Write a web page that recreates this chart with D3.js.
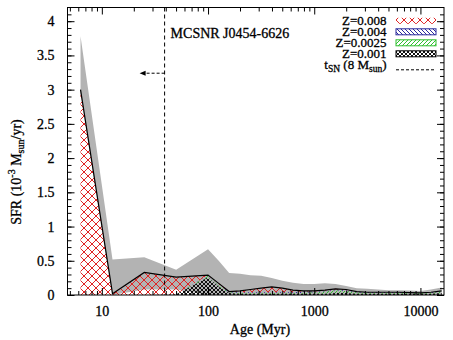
<!DOCTYPE html>
<html>
<head>
<meta charset="utf-8">
<script src="https://cdn.jsdelivr.net/npm/d3@7"></script>
<style>
  body { margin: 0; background: #fff; }
  svg { display: block; }
  svg text { font-family: "Liberation Serif", "Times New Roman", Times, "DejaVu Serif", serif; stroke: #000; stroke-width: 0.3px; }
</style>
</head>
<body>
<svg id="chart" width="453" height="340"></svg>
<script>
// age bins (Myr)
const ages = [6.3, 12.6, 25.1, 50.1, 100, 126, 158, 200, 251, 316, 398, 501, 631, 794, 1000, 1259, 1585, 1995, 2512, 3162, 3981, 5012, 6310, 7943, 10000, 12589, 15849]

// SFR per metallicity, 10^-3 Msun/yr
const sfrZ001  = [0, 0, 0, 0.01, 0.26, 0.12, 0.03, 0.02, 0.02, 0.02, 0.02, 0.02, 0.02, 0.02, 0.02, 0.02, 0.03, 0.03, 0.02, 0.02, 0.02, 0.02, 0.02, 0.02, 0.02, 0.02, 0.03]
const sfrZ0025 = [0, 0, 0, 0, 0.02, 0.02, 0.01, 0.01, 0.01, 0.01, 0.01, 0.01, 0.01, 0.01, 0.02, 0.03, 0.04, 0.03, 0.02, 0.01, 0.01, 0.01, 0.01, 0.01, 0.01, 0.01, 0.02]
const sfrZ004  = [0, 0, 0, 0, 0.01, 0.01, 0.01, 0.01, 0.01, 0.01, 0.01, 0.01, 0.01, 0.02, 0.01, 0.01, 0.01, 0.01, 0.01, 0.01, 0.01, 0.01, 0.01, 0.005, 0, 0.01, 0.01]
const sfrZ008  = [3.0, 0.02, 0.33, 0.25, 0, 0.02, 0, 0.02, 0.04, 0.06, 0.08, 0.06, 0.03, 0.01, 0.01, 0.01, 0.01, 0.01, 0, 0, 0, 0, 0, 0, 0, 0, 0]

// uncertainty envelope
const errHigh = [3.78, 0.52, 0.55, 0.37, 0.67, 0.50, 0.32, 0.31, 0.29, 0.28, 0.25, 0.21, 0.18, 0.16, 0.16, 0.17, 0.16, 0.13, 0.10, 0.09, 0.08, 0.07, 0.07, 0.065, 0.06, 0.08, 0.11]
const errLow  = [2.95, 0, 0.08, 0.08, 0, 0, 0, 0, 0, 0, 0, 0, 0, 0, 0, 0, 0, 0, 0, 0, 0, 0, 0, 0, 0, 0, 0]

const xTicks = [10, 100, 1000, 10000]
const yTicks = [0, 0.5, 1, 1.5, 2, 2.5, 3, 3.5, 4]
const tSN = 39
const snrName = 'MCSNR J0454-6626'

const keys = ['z001', 'z0025', 'z004', 'z008']
const rows = ages.map((a, i) => ({age: a, z001: sfrZ001[i], z0025: sfrZ0025[i], z004: sfrZ004[i], z008: sfrZ008[i], hi: errHigh[i], lo: errLow[i]}))

const serif = '"Liberation Serif", "Times New Roman", Times, "DejaVu Serif", serif'
const svg = d3.select('#chart').attr('font-family', serif)
const margin = {left: 67.5, right: 444, top: 7.5, bottom: 295}

const x = d3.scaleLog().domain([4.75, 16670]).range([margin.left, margin.right])
const y = d3.scaleLinear().domain([0, 4.2]).range([margin.bottom, margin.top])

// hatch patterns
const defs = svg.append('defs')
function hatch(id, s, color, dirs, w) {
	const p = defs.append('pattern').attr('id', id)
		.attr('patternUnits', 'userSpaceOnUse')
		.attr('width', s).attr('height', s)
	dirs.forEach(dir => {
		const d = dir === '\\'
			? `M-1,-1L${s+1},${s+1}M-1,${s-1}L1,${s+1}M${s-1},-1L${s+1},1`
			: `M-1,${s+1}L${s+1},-1M-1,1L1,-1M${s-1},${s+1}L${s+1},${s-1}`
		p.append('path').attr('d', d).attr('stroke', color).attr('stroke-width', w).attr('fill', 'none')
	})
}
hatch('pZ008', 8, '#e02424', ['\\', '/'], 1)
hatch('pZ004', 4, '#2a2a9c', ['\\'], 1)
hatch('pZ0025', 4, '#2fbf2f', ['/'], 1)
hatch('pZ001', 4, '#111', ['\\', '/'], 1)

const fills = {z008: 'url(#pZ008)', z004: 'url(#pZ004)', z0025: 'url(#pZ0025)', z001: 'url(#pZ001)'}

// gray band
svg.append('path')
	.datum(rows)
	.attr('fill', '#b3b3b3')
	.attr('d', d3.area().x(d => x(d.age)).y0(d => y(d.lo)).y1(d => y(d.hi)))

// stacked metallicity components
const stacked = d3.stack().keys(keys)(rows)
const area = d3.area().x(d => x(d.data.age)).y0(d => y(d[0])).y1(d => y(d[1]))
svg.append('g')
	.selectAll('path')
	.data(stacked)
	.join('path')
		.attr('fill', s => fills[s.key])
		.attr('d', area)

// total
svg.append('path')
	.datum(stacked[stacked.length - 1])
	.attr('fill', 'none')
	.attr('stroke', '#000')
	.attr('stroke-width', 1.2)
	.attr('d', d3.line().x(d => x(d.data.age)).y(d => y(d[1])))

// SN lifetime marker
svg.append('line')
	.attr('x1', x(tSN)).attr('x2', x(tSN))
	.attr('y1', margin.top).attr('y2', margin.bottom)
	.attr('stroke', '#000').attr('stroke-dasharray', '4,3')
const ay = y(3.24)
svg.append('line')
	.attr('x1', x(tSN)).attr('x2', x(tSN) - 21)
	.attr('y1', ay).attr('y2', ay)
	.attr('stroke', '#000').attr('stroke-dasharray', '3,2')
svg.append('path')
	.attr('d', `M${x(tSN) - 25},${ay}L${x(tSN) - 19},${ay - 2.5}L${x(tSN) - 19},${ay + 2.5}Z`)
	.attr('fill', '#000')
svg.append('text')
	.attr('x', x(tSN) + 6).attr('y', 38.3)
	.attr('font-size', 14)
	.text(snrName)

// axes, ticks inward on all four sides
const minorX = x.ticks().filter(t => !xTicks.includes(t))
const minorY = d3.range(0, 42).map(i => i / 10)

svg.append('g').attr('transform', `translate(0,${margin.bottom})`)
	.call(d3.axisBottom(x).tickValues(xTicks).tickFormat(d3.format('d')).tickSizeInner(-7).tickSizeOuter(0).tickPadding(11))
svg.append('g').attr('transform', `translate(0,${margin.bottom})`)
	.call(d3.axisBottom(x).tickValues(minorX).tickFormat('').tickSizeInner(-4).tickSizeOuter(0))
svg.append('g').attr('transform', `translate(0,${margin.top})`)
	.call(d3.axisTop(x).tickValues(xTicks).tickFormat('').tickSizeInner(-7).tickSizeOuter(0))
svg.append('g').attr('transform', `translate(0,${margin.top})`)
	.call(d3.axisTop(x).tickValues(minorX).tickFormat('').tickSizeInner(-4).tickSizeOuter(0))

svg.append('g').attr('transform', `translate(${margin.left},0)`)
	.call(d3.axisLeft(y).tickValues(yTicks).tickFormat(d3.format('')).tickSizeInner(-7).tickSizeOuter(0).tickPadding(13))
svg.append('g').attr('transform', `translate(${margin.left},0)`)
	.call(d3.axisLeft(y).tickValues(minorY).tickFormat('').tickSizeInner(-4).tickSizeOuter(0))
svg.append('g').attr('transform', `translate(${margin.right},0)`)
	.call(d3.axisRight(y).tickValues(yTicks).tickFormat('').tickSizeInner(-7).tickSizeOuter(0))
svg.append('g').attr('transform', `translate(${margin.right},0)`)
	.call(d3.axisRight(y).tickValues(minorY).tickFormat('').tickSizeInner(-4).tickSizeOuter(0))

svg.selectAll('g').attr('font-family', serif)
svg.selectAll('.tick text')
	.attr('font-size', 14)
	.attr('fill', '#000')
svg.selectAll('.domain').remove()

svg.append('rect')
	.attr('x', margin.left).attr('y', margin.top)
	.attr('width', margin.right - margin.left).attr('height', margin.bottom - margin.top)
	.attr('fill', 'none').attr('stroke', '#000')

// axis titles
svg.append('text')
	.attr('x', 260).attr('y', 334)
	.attr('text-anchor', 'middle').attr('font-size', 14)
	.text('Age (Myr)')

const yl = svg.append('text')
	.attr('transform', 'translate(20.5,172) rotate(-90)')
	.attr('text-anchor', 'middle').attr('font-size', 14)
yl.append('tspan').text('SFR (10')
yl.append('tspan').attr('font-size', 10).attr('dy', -6).text('-3')
yl.append('tspan').attr('dy', 6).text(' M')
yl.append('tspan').attr('font-size', 10).attr('dy', 3).text('sun')
yl.append('tspan').attr('dy', -3).text('/yr)')

// legend
const legend = [
	{label: 'Z=0.008', key: 'z008', border: 'none'},
	{label: 'Z=0.004', key: 'z004', border: '#2a2a9c'},
	{label: 'Z=0.0025', key: 'z0025', border: '#2fbf2f'},
	{label: 'Z=0.001', key: 'z001', border: '#000'}
]
const lx = 386.5, bx = 396, bw = 40
legend.forEach((l, i) => {
	const by = 25.3 + i * 11
	svg.append('text').attr('x', lx).attr('y', by)
		.attr('text-anchor', 'end').attr('font-size', 13).text(l.label)
	svg.append('rect').attr('x', bx).attr('y', by - 7.5)
		.attr('width', bw).attr('height', 6)
		.attr('fill', fills[l.key]).attr('stroke', l.border)
})
const sy = 25.3 + 4 * 11
const st = svg.append('text').attr('x', lx).attr('y', sy)
	.attr('text-anchor', 'end').attr('font-size', 13)
st.append('tspan').text('t')
st.append('tspan').attr('font-size', 9.5).attr('dy', 3).text('SN')
st.append('tspan').attr('dy', -3).text(' (8 M')
st.append('tspan').attr('font-size', 9.5).attr('dy', 3).text('sun')
st.append('tspan').attr('dy', -3).text(')')
svg.append('line').attr('x1', bx).attr('x2', bx + bw)
	.attr('y1', sy + 0.5).attr('y2', sy + 0.5)
	.attr('stroke', '#000').attr('stroke-dasharray', '3,2')
</script>
</body>
</html>
